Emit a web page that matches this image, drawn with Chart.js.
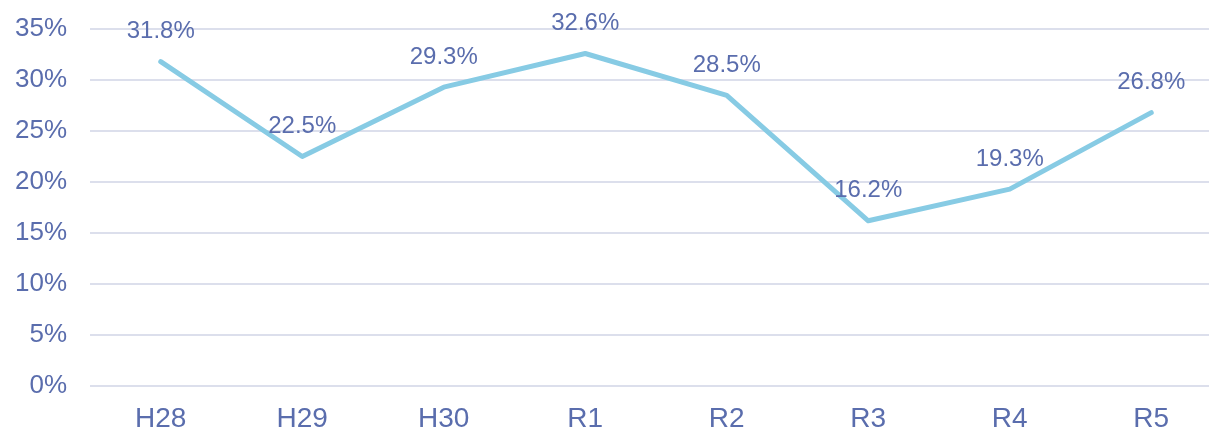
<!DOCTYPE html>
<html>
<head>
<meta charset="utf-8">
<script src="https://cdn.jsdelivr.net/npm/chart.js@4/dist/chart.umd.min.js"></script>
<style>
  html, body { margin: 0; padding: 0; background: #fff; overflow: hidden; }
  #wrap { position: relative; width: 1222px; height: 432px; }
</style>
</head>
<body>
<div id="wrap"><canvas id="grafico"></canvas></div>
<script>
const categorias = ['H28', 'H29', 'H30', 'R1', 'R2', 'R3', 'R4', 'R5'];
const valores = [31.8, 22.5, 29.3, 32.6, 28.5, 16.2, 19.3, 26.8];
const ticksY = [0, 5, 10, 15, 20, 25, 30, 35];

const corTexto = '#5a6dad';
const fonte = '"Liberation Sans", Arial, sans-serif';

// rotulos de dados acima de cada ponto
const rotulos = {
    id: 'rotulos',
    afterDatasetsDraw(chart) {
        const ctx = chart.ctx;
        const meta = chart.getDatasetMeta(0);
        ctx.save();
        ctx.font = '24px ' + fonte;
        ctx.fillStyle = corTexto;
        ctx.textAlign = 'center';
        ctx.textBaseline = 'middle';
        meta.data.forEach((pt, i) => {
            ctx.fillText(valores[i].toFixed(1) + '%', pt.x, pt.y - 30);
        });
        ctx.restore();
    }
};

new Chart(document.getElementById('grafico'), {
    type: 'line',
    data: {
        labels: categorias,
        datasets: [{
            data: valores,
            borderColor: '#87cbe4',
            borderWidth: 5,
            tension: 0,
            pointRadius: 0,
            borderJoinStyle: 'round',
            borderCapStyle: 'round',
            fill: false
        }]
    },
    options: {
        responsive: true,
        maintainAspectRatio: false,
        animation: false,
        layout: { padding: { top: 29, left: 0, right: 0, bottom: 0 } },
        plugins: {
            legend: { display: false },
            tooltip: { enabled: false }
        },
        scales: {
            x: {
                offset: true,
                grid: { display: false, drawTicks: false },
                border: { display: false },
                ticks: {
                    color: corTexto,
                    padding: 16,
                    font: { family: fonte, size: 28 }
                },
                afterFit: (s) => { s.height = 46; s.paddingLeft = 0; s.paddingRight = 0; }
            },
            y: {
                min: 0,
                max: 35,
                afterBuildTicks: (s) => { s.ticks = ticksY.map(v => ({ value: v })); },
                grid: { color: '#dcdfec', lineWidth: 2, drawTicks: false },
                border: { display: false },
                ticks: {
                    color: corTexto,
                    padding: 23,
                    font: { family: fonte, size: 26 },
                    callback: (v) => v + '%'
                },
                afterFit: (s) => { s.width = 90; s.paddingTop = 0; s.paddingBottom = 0; }
            }
        }
    },
    plugins: [rotulos]
});
</script>
</body>
</html>
